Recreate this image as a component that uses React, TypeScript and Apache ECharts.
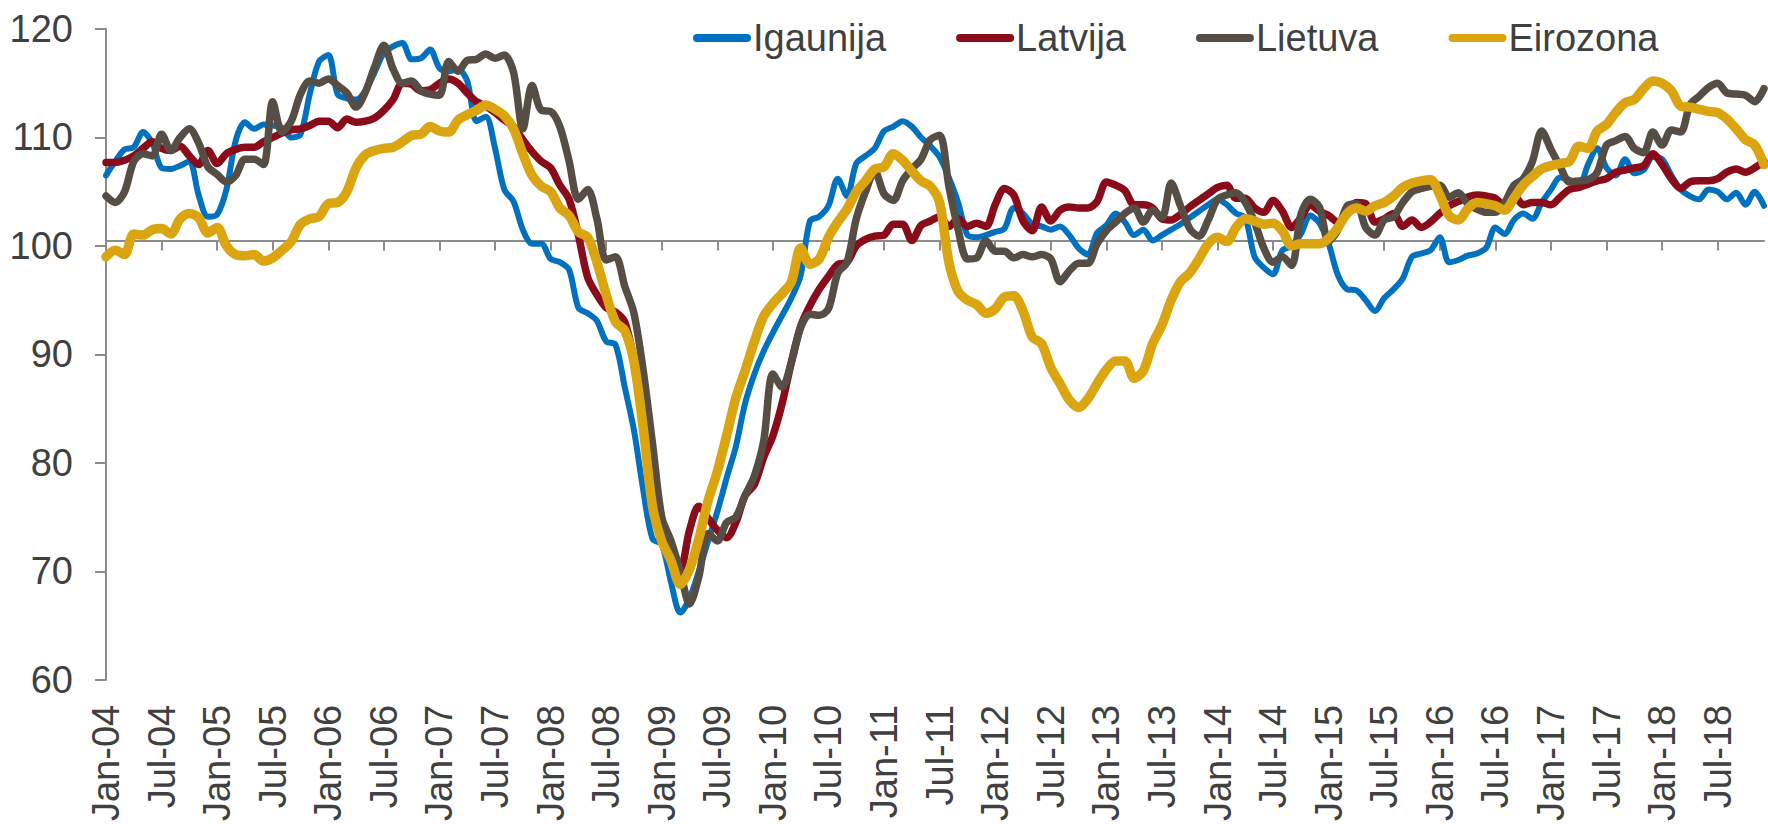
import { useEffect, useRef } from "react";
import * as echarts from "echarts";

const MONTHS = ["Jan", "Feb", "Mar", "Apr", "May", "Jun", "Jul", "Aug", "Sep", "Oct", "Nov", "Dec"];
const YEARS = ["04", "05", "06", "07", "08", "09", "10", "11", "12", "13", "14", "15", "16", "17", "18"];
const categories = YEARS.flatMap((y) => MONTHS.map((m) => `${m}-${y}`));

const SERIES_NAMES = ["Igaunija", "Latvija", "Lietuva", "Eirozona"];

const igaunija = [
  106.5, 107.8, 108.9, 109.1, 110.5, 109.5, 107.2, 107.1, 107.4, 107.8, 104.7, 102.7,
  102.9, 105.2, 109.7, 111.4, 110.8, 111.2, 111.1, 110.9, 110.0, 110.3, 114.0, 117.0,
  117.6, 114.0, 113.6, 113.5, 114.3, 116.0, 117.8, 118.4, 118.7, 117.2, 117.3, 118.1,
  116.4, 116.1, 116.3, 115.2, 111.5, 111.9, 109.0, 105.2, 104.1, 101.5, 100.2, 100.2,
  98.8, 98.5, 97.8, 94.3, 93.8, 93.1, 91.2, 90.9, 87.0, 83.0, 77.5, 73.0,
  72.5, 69.0, 66.2, 67.5, 70.0, 72.8, 75.5, 78.6, 81.5, 85.5, 88.2, 90.3,
  92.0, 93.6, 95.2, 97.3, 102.3, 102.7, 103.7, 106.2, 104.6, 107.6, 108.3, 109.0,
  110.6, 111.0, 111.5, 111.0, 110.0, 109.2, 108.2, 106.3, 104.0, 101.0, 100.8, 101.0,
  101.3, 101.6, 103.5, 103.0, 102.0, 101.8, 101.5, 101.8, 101.0, 99.8, 99.2, 101.2,
  101.9, 103.0, 102.2, 101.0, 101.5, 100.5, 101.0, 101.5, 102.0, 102.6, 103.2, 103.8,
  104.3, 103.8, 103.0, 102.6, 99.0, 98.0, 97.4, 99.6, 100.0, 101.1, 102.8, 102.1,
  100.2, 97.3, 96.0, 95.9, 95.0, 94.0, 95.2, 96.0, 97.0, 99.0, 99.3, 99.6,
  100.8, 98.5, 98.7, 99.1, 99.3, 99.8, 101.7, 101.1, 102.4, 103.0, 102.5, 104.0,
  105.2, 106.3, 106.1, 105.5, 107.5, 109.0, 107.2, 106.5, 108.0, 106.7, 107.0, 108.2,
  108.0, 106.5, 105.2, 104.6, 104.3, 105.2, 105.0, 104.3, 104.9, 103.8, 105.0, 103.7,
];

const latvija = [
  107.7, 107.7, 107.9, 108.3, 109.0, 109.6, 109.0, 108.8, 109.2, 108.3, 107.5, 108.8,
  107.6, 108.5, 108.9, 109.1, 109.1, 109.6, 110.0, 110.4, 110.7, 110.8, 111.1, 111.5,
  111.5, 110.9, 111.7, 111.4, 111.5, 111.8, 112.5, 113.5, 115.0, 114.9, 114.3, 114.4,
  115.0, 115.4, 115.0, 114.1, 113.3, 112.9, 112.3, 111.6, 111.0, 109.8, 108.7, 107.8,
  107.2, 105.6, 104.3, 101.0, 97.1, 95.5, 94.3, 93.9, 93.0, 89.5, 84.3, 79.6,
  74.8, 72.1, 70.2, 73.8, 76.0, 74.9, 73.8, 73.1, 74.5, 77.0, 78.0, 80.5,
  82.5, 85.5, 89.3, 92.6, 94.5, 96.0, 97.2, 98.3, 98.5, 100.0, 100.6, 100.9,
  101.0, 102.0, 102.0, 100.5, 101.9, 102.3, 102.7, 101.8, 102.5, 101.8, 102.1, 101.8,
  103.8, 105.3, 104.7, 102.3, 101.4, 103.6, 102.3, 103.3, 103.6, 103.5, 103.5, 104.1,
  105.9, 105.6, 105.1, 103.8, 103.8, 103.5, 102.5, 102.4, 102.9, 103.6, 104.2, 104.8,
  105.4, 105.6, 104.4, 104.4, 103.5, 103.1, 104.2, 103.2, 101.7, 102.6, 103.8, 103.2,
  102.8, 102.2, 103.0, 104.0, 103.9, 102.2, 102.5, 103.0, 101.8, 102.4, 101.7, 102.2,
  103.0, 103.7, 104.1, 104.5, 104.7, 104.6, 104.4, 103.7, 104.7, 103.8, 104.0, 104.0,
  103.8, 104.5, 105.2, 105.4, 105.7, 106.0, 106.2, 106.8, 107.0, 107.2, 107.4, 108.5,
  107.5, 106.2, 105.3, 105.9, 106.0, 106.0, 106.2, 106.8, 107.1, 106.8, 107.2, 107.8,
];

const lietuva = [
  104.6, 104.0, 105.0, 107.8, 108.5, 108.3, 110.3, 108.8, 110.0, 110.8, 109.5, 107.3,
  106.6, 105.9, 106.5, 108.0, 108.0, 107.5, 113.3, 110.5, 111.5, 114.0, 115.2, 115.0,
  115.4, 114.8, 114.1, 112.8, 114.2, 116.5, 118.5, 116.3, 115.0, 115.2, 114.3, 114.0,
  113.9, 117.0, 116.1, 117.1, 117.2, 117.7, 117.3, 117.6, 116.0, 110.8, 114.8, 112.5,
  112.4, 111.0, 107.8, 104.3, 105.2, 102.5, 98.7, 99.0, 96.3, 93.8, 88.5, 81.8,
  75.0, 72.8, 70.0, 67.0, 69.5, 73.5, 72.8, 74.5, 75.0, 77.0, 78.8, 82.0,
  88.2, 87.0, 89.3, 92.5, 93.7, 93.6, 94.2, 97.5, 98.5, 102.5, 105.0, 106.9,
  104.8, 104.2, 106.0, 107.1, 108.0, 109.8, 110.2, 105.5, 101.5, 98.8, 98.9, 100.5,
  99.5, 99.5, 98.9, 99.2, 99.0, 99.2, 98.8, 96.7, 97.7, 98.4, 98.4, 100.2,
  101.4, 102.2, 103.0, 103.5, 102.2, 103.3, 102.6, 105.8, 103.7, 101.6, 100.9, 102.4,
  104.3, 104.7, 104.9, 104.0, 102.2, 99.8, 98.5, 99.0, 98.2, 102.9, 104.3, 103.6,
  100.4, 101.5, 103.7, 103.9, 101.7, 101.0, 102.4, 102.7, 104.0, 105.0, 105.3, 105.5,
  105.6, 104.5, 104.9, 103.9, 103.4, 103.1, 103.1, 104.0, 105.6, 106.2, 107.8, 110.6,
  108.9, 107.3, 105.9, 106.0, 106.1, 106.8, 109.3, 109.7, 110.1, 109.0, 108.6, 110.5,
  109.3, 110.7, 110.5, 113.0, 113.8, 114.6, 115.0, 114.1, 114.0, 113.9, 113.3, 114.5,
];

const eirozona = [
  99.0, 99.6, 99.2, 101.1, 101.0, 101.5, 101.6, 101.1, 102.5, 103.0, 102.6, 101.2,
  101.7, 100.0, 99.2, 99.1, 99.2, 98.6, 98.9, 99.6, 100.4, 102.0, 102.5, 102.7,
  103.9, 104.0, 105.0, 107.2, 108.4, 108.8, 109.0, 109.1, 109.6, 110.2, 110.3, 111.0,
  110.6, 110.5, 111.6, 112.1, 112.5, 113.0, 112.6, 112.0, 110.8, 108.5, 106.5, 105.5,
  105.0, 103.5, 102.8, 101.3, 100.8, 98.5, 95.5, 93.0, 92.2, 89.3, 83.2, 76.0,
  72.8, 71.0, 68.8, 70.2, 73.0, 76.5, 79.2, 82.5, 86.0, 88.5, 91.2, 93.5,
  94.7, 95.6, 96.7, 99.8, 98.3, 98.8, 100.8, 102.2, 103.4, 105.0, 106.0, 107.1,
  107.3, 108.5, 107.9, 106.9, 106.0, 105.5, 104.0, 98.5, 95.8, 95.0, 94.6, 93.8,
  94.2, 95.3, 95.4, 94.0, 91.6, 91.0, 88.8, 87.3, 85.8, 85.1, 85.9, 87.3,
  88.6, 89.4, 89.4, 87.8, 88.5, 91.0, 92.7, 95.0, 96.7, 97.5, 98.8, 100.2,
  100.8, 100.4, 101.7, 102.5, 102.3, 102.0, 102.1, 101.4, 100.0, 100.2, 100.2, 100.2,
  100.7, 101.7, 103.0, 103.5, 103.2, 103.7, 104.0, 104.6, 105.4, 105.8, 106.0, 106.1,
  104.7, 102.8, 102.4, 103.4, 104.0, 103.9, 103.7, 103.3, 104.4, 105.6, 106.4, 107.1,
  107.4, 107.6, 107.8, 109.2, 109.0, 110.6, 111.2, 112.3, 113.2, 113.5, 114.5, 115.2,
  115.0, 114.3, 112.9, 112.8, 112.6, 112.4, 112.3, 111.7, 110.8, 109.8, 109.3, 107.5,
];

const Y_TICKS = { min: 60, max: 120, interval: 10 };

const FONT = "'Liberation Sans', Arial, Helvetica, sans-serif";
const TEXT_COLOR = "#404040";
const AXIS_COLOR = "#8C8C8C";
const COLORS = ["#0070C0", "#8A0C1A", "#564E44", "#DAA510"];
const WIDTHS = [6, 7.5, 7.5, 9.5];
const FONT_SIZE = 38;

export default function App() {
  const ref = useRef<HTMLDivElement>(null);

  useEffect(() => {
    if (!ref.current) return;
    document.documentElement.style.overflow = "hidden";
    document.body.style.overflow = "hidden";
    document.body.style.margin = "0";
    const chart = echarts.init(ref.current, null, { renderer: "svg" });
    const values = [igaunija, latvija, lietuva, eirozona];
    const gridTop = 29;
    const gridBottomY = 688;
    const y100 = gridTop + ((Y_TICKS.max - 100) / (Y_TICKS.max - Y_TICKS.min)) * (gridBottomY - gridTop);

    chart.setOption({
      animation: false,
      color: COLORS,
      textStyle: { fontFamily: FONT },
      grid: { left: 106, right: 4, top: gridTop, bottom: 824 - gridBottomY, containLabel: false },
      legend: {
        data: SERIES_NAMES,
        left: 688,
        top: 14,
        itemWidth: 58,
        itemHeight: 8,
        itemGap: 70,
        icon: "path://M4,0H54A4,4,0,0,1,54,8H4A4,4,0,0,1,4,0Z",
        textStyle: { fontSize: FONT_SIZE, color: TEXT_COLOR, fontFamily: FONT, padding: [0, 0, 0, -3] },
      },
      xAxis: [
        {
          type: "category",
          data: categories,
          boundaryGap: false,
          axisLine: { show: false },
          axisTick: { show: false },
          axisLabel: {
            interval: 5,
            rotate: 90,
            margin: 25,
            fontSize: FONT_SIZE,
            color: TEXT_COLOR,
            fontFamily: FONT,
          },
          splitLine: { show: false },
        },
        {
          type: "category",
          data: categories,
          boundaryGap: false,
          position: "bottom",
          offset: -(gridBottomY - y100),
          axisLine: { show: true, onZero: false, lineStyle: { color: AXIS_COLOR, width: 2 } },
          axisTick: { show: true, interval: 5, length: 10, lineStyle: { color: AXIS_COLOR, width: 2 } },
          axisLabel: { show: false },
          splitLine: { show: false },
        },
      ],
      yAxis: {
        type: "value",
        min: Y_TICKS.min,
        max: Y_TICKS.max,
        interval: Y_TICKS.interval,
        axisLine: { show: true, lineStyle: { color: AXIS_COLOR, width: 2 } },
        axisTick: { show: true, length: 11, lineStyle: { color: AXIS_COLOR, width: 2 } },
        axisLabel: { margin: 33, fontSize: FONT_SIZE, color: TEXT_COLOR, fontFamily: FONT },
        splitLine: { show: false },
      },
      series: SERIES_NAMES.map((name, i) => ({
        name,
        type: "line",
        xAxisIndex: 0,
        data: values[i],
        showSymbol: false,
        symbol: "none",
        smooth: 0.3,
        itemStyle: { color: COLORS[i] },
        lineStyle: { color: COLORS[i], width: WIDTHS[i], cap: "round", join: "round" },
      })),
    });

    return () => chart.dispose();
  }, []);

  return (
    <div
      ref={ref}
      style={{ position: "absolute", left: 0, top: 0, width: 1768, height: 824, overflow: "hidden" }}
    />
  );
}
